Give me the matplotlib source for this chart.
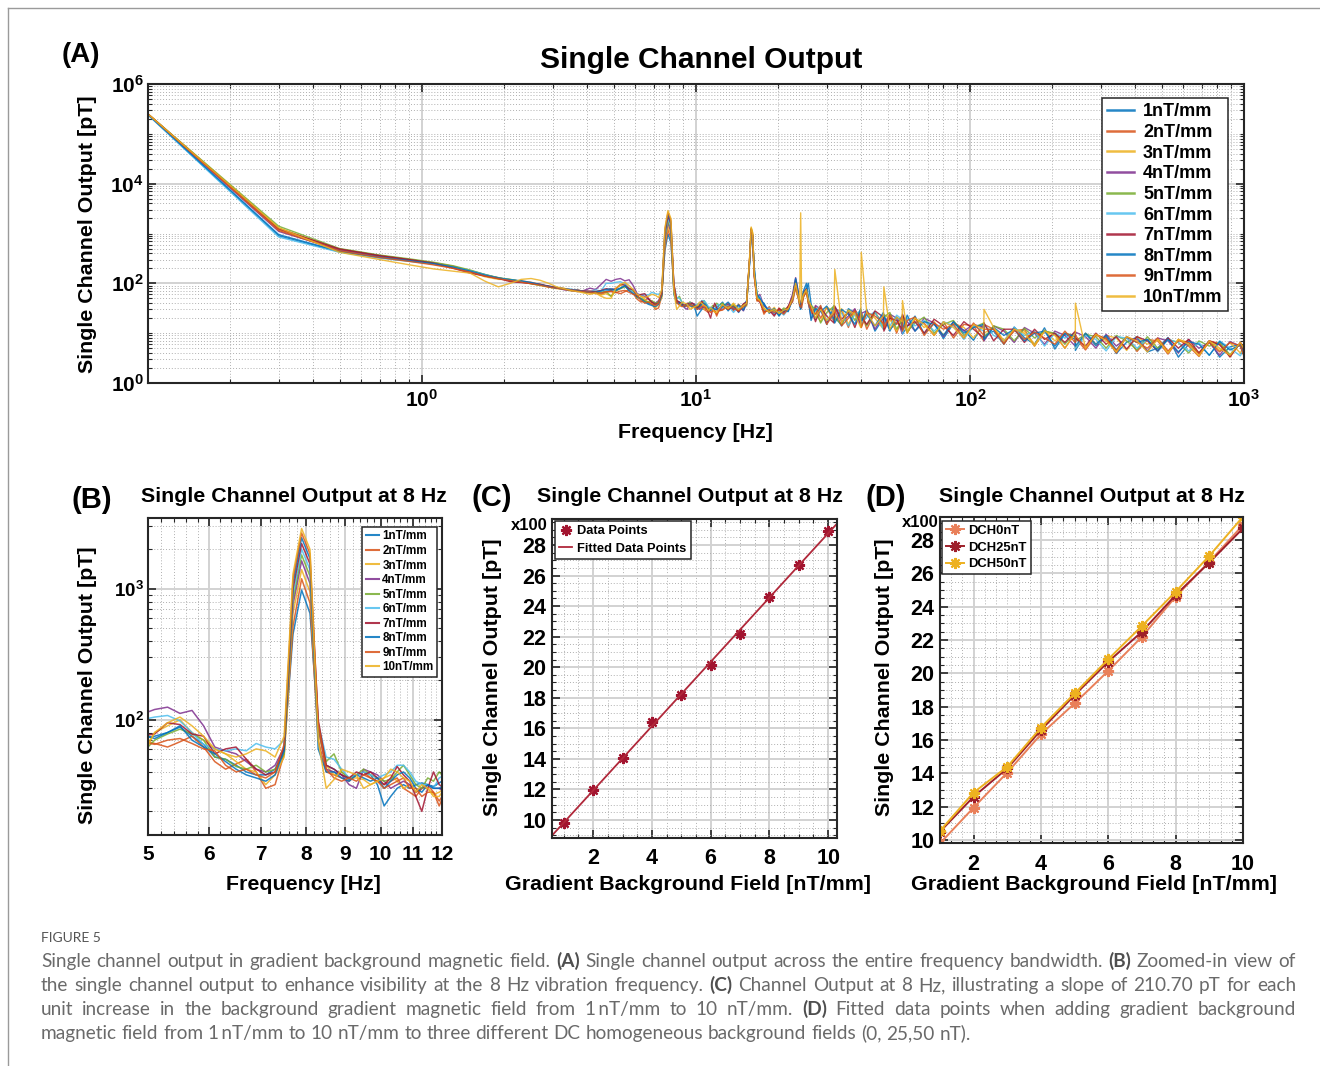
import numpy as np
import matplotlib
matplotlib.use('Agg')
from matplotlib import pyplot as plt
from matplotlib.ticker import FixedLocator, FuncFormatter, NullFormatter, MultipleLocator, LogLocator
from matplotlib.lines import Line2D

plt.rcParams['font.family'] = ['Liberation Sans', 'DejaVu Sans']
plt.rcParams['font.weight'] = 'bold'
plt.rcParams['mathtext.fontset'] = 'custom'
plt.rcParams['mathtext.rm'] = 'Liberation Sans:bold'
plt.rcParams['mathtext.bf'] = 'Liberation Sans:bold'

# ---------------- data ----------------
labels = ['1nT/mm', '2nT/mm', '3nT/mm', '4nT/mm', '5nT/mm',
          '6nT/mm', '7nT/mm', '8nT/mm', '9nT/mm', '10nT/mm']
colors = ['#0072BD', '#D95319', '#EDB120', '#7E2F8E', '#77AC30',
          '#4DBEEE', '#A2142F', '#0072BD', '#D95319', '#EDB120']

# spectrum sampled every 0.2 Hz below 12 Hz
f_low = np.round(np.arange(0.1, 4.8, 0.2), 1)
f_zoom = np.round(np.arange(4.9, 12.2, 0.2), 1)
f_high = [12.5, 13.1, 13.7, 14.3, 14.9, 15.3, 15.7, 15.9, 16.1, 16.3, 16.7, 17.1, 17.7,
          18.5, 19.3, 20.1, 20.9, 21.7, 22.5, 23.1, 23.5, 23.9, 24.1, 24.3, 24.7, 25.3,
          25.7, 26.3, 27.3, 28.5, 30, 31.9, 32.1, 34, 36, 38, 39.9, 40.1, 42, 45, 48.3,
          48.5, 51, 54, 56.5, 56.7, 59, 63, 68, 74, 80, 87, 95, 103, 112.3, 112.5, 122,
          133, 145, 158, 172, 187, 204, 222, 242.3, 242.5, 264, 288, 314, 342, 373, 407,
          444, 484, 528, 576, 628, 685, 747, 815, 889, 970, 1000]

low_1 = [2.4e5, 900, 430, 330, 280, 250, 215, 180, 150, 128, 118, 110, 100, 92, 88, 82, 78, 75, 72, 70, 68, 66, 64, 70]
low_2 = [2.5e5, 1200, 480, 360, 300, 260, 220, 175, 140, 125, 115, 112, 105, 95, 85, 80, 76, 72, 74, 68, 65, 62, 60, 66]
low_3 = [2.5e5, 1300, 460, 340, 285, 240, 205, 170, 135, 120, 120, 108, 98, 90, 84, 78, 80, 70, 70, 66, 64, 70, 58, 62]
low_4 = [2.45e5, 1100, 470, 350, 290, 245, 210, 170, 145, 130, 112, 106, 100, 94, 86, 82, 74, 72, 68, 72, 80, 75, 95, 120]
low_5 = [2.5e5, 1400, 500, 370, 310, 265, 225, 185, 150, 130, 120, 110, 98, 92, 86, 80, 76, 74, 70, 68, 66, 64, 66, 68]
low_6 = [2.4e5, 850, 420, 320, 275, 245, 210, 178, 148, 126, 118, 108, 102, 94, 86, 80, 78, 76, 72, 70, 68, 74, 70, 100]
low_7 = [2.5e5, 1250, 490, 360, 300, 255, 200, 160, 140, 125, 108, 104, 100, 96, 88, 82, 78, 74, 72, 70, 70, 68, 72, 78]
low_8 = [2.45e5, 950, 440, 335, 285, 250, 212, 176, 146, 128, 118, 112, 104, 94, 86, 80, 78, 72, 72, 68, 66, 66, 70, 75]
low_9 = [2.5e5, 1150, 450, 330, 275, 235, 200, 168, 140, 124, 114, 106, 98, 92, 84, 80, 76, 72, 70, 68, 66, 64, 64, 68]
low_10 = [2.5e5, 1300, 420, 300, 235, 195, 175, 160, 110, 85, 100, 120, 125, 115, 100, 85, 78, 72, 68, 64, 60, 64, 55, 50]

zoom_1 = [72, 75, 80, 88, 75, 65, 52, 50, 45, 40, 38, 38, 42, 60, 450, 980, 650, 85, 45, 42,
          38, 35, 38, 40, 38, 32, 22, 26, 30, 32, 30, 32, 33, 32, 31, 33, 35]
zoom_2 = [70, 66, 62, 68, 75, 62, 48, 42, 46, 50, 40, 30, 32, 55, 520, 1195, 780, 70, 40, 38,
          36, 34, 38, 40, 36, 34, 32, 34, 36, 30, 28, 26, 30, 32, 28, 22, 28]
zoom_3 = [55, 80, 90, 100, 80, 70, 60, 55, 48, 42, 40, 32, 38, 52, 650, 1405, 950, 80, 45, 38,
          40, 36, 36, 35, 32, 34, 36, 38, 34, 30, 32, 28, 30, 30, 27, 28, 30]
zoom_4 = [110, 120, 125, 112, 118, 90, 62, 58, 55, 48, 42, 40, 45, 62, 760, 1640, 1100, 90, 42, 40,
          38, 32, 30, 42, 40, 38, 34, 30, 32, 34, 32, 28, 30, 32, 30, 30, 28]
zoom_5 = [55, 70, 78, 85, 78, 70, 52, 50, 44, 42, 45, 40, 42, 55, 830, 1820, 1250, 90, 48, 55,
          40, 36, 38, 42, 38, 36, 34, 35, 40, 45, 38, 32, 30, 36, 34, 40, 36]
zoom_6 = [100, 105, 108, 98, 80, 65, 60, 58, 60, 58, 66, 62, 60, 70, 900, 2015, 1400, 95, 52, 50,
          42, 36, 38, 40, 38, 36, 38, 40, 45, 45, 40, 34, 32, 32, 30, 36, 38]
zoom_7 = [75, 78, 95, 92, 78, 75, 55, 60, 62, 50, 42, 38, 40, 60, 1000, 2220, 1550, 100, 45, 42,
          38, 36, 40, 38, 40, 36, 32, 36, 44, 38, 34, 26, 20, 30, 40, 32, 30]
zoom_8 = [78, 72, 80, 90, 70, 62, 55, 48, 42, 38, 36, 34, 38, 58, 1100, 2460, 1700, 60, 40, 40,
          36, 34, 38, 36, 34, 36, 30, 34, 38, 40, 36, 30, 28, 32, 30, 30, 32]
zoom_9 = [68, 65, 70, 72, 66, 60, 58, 45, 40, 42, 38, 36, 40, 65, 1200, 2670, 1850, 95, 42, 36,
          34, 36, 34, 38, 36, 34, 30, 32, 34, 36, 30, 30, 26, 28, 28, 24, 28]
zoom_10 = [50, 80, 95, 105, 90, 75, 60, 55, 52, 55, 60, 58, 52, 75, 1300, 2890, 2000, 70, 30, 35,
           42, 40, 38, 30, 32, 34, 36, 42, 40, 36, 34, 28, 32, 30, 26, 26, 30]

high_1 = [42, 28, 38, 26, 36, 45, 260, 1050, 800, 230, 55, 45, 40, 25, 30, 22, 30, 28, 50, 120, 70, 35,
          30, 40, 55, 75, 100,
          39, 19, 29, 15, 36, 22, 14, 31, 25, 15, 16, 30, 11, 20, 23, 12, 16, 22, 9.6, 13.5,
          22, 9.8, 15.6, 7.8, 15.6, 11.5, 7.2, 16, 8.8, 11, 6, 13.3, 8.1, 6, 12.8, 4.8,
          9.6, 7.5, 4.5, 9.8, 5.6, 8.5, 3.9, 6.6, 8.4, 4.2, 5, 8.2, 3.3, 6, 4, 7, 3.3, 5.3, 6, 4.5]
high_2 = [30, 40, 28, 38, 30, 42, 320, 1150, 900, 140, 48, 45, 24, 34, 24, 32, 26, 35, 42, 80, 55, 45,
          38, 32, 55, 70, 40,
          24, 34, 20, 33, 17, 30, 28, 13, 30, 19, 27, 12, 26, 15, 12, 22, 10, 20, 22, 10,
          19, 16, 9, 17, 8, 15, 14, 7, 15, 12, 6.5, 11, 12, 5.5, 11, 9.5, 5, 10, 8, 4.6,
          9, 8, 4, 8.5, 4.3, 7.5, 7, 3.8, 7.5, 5.5, 3.4, 7, 6.2, 3.3, 6.5, 5]
high_3 = [38, 30, 40, 29, 35, 38, 350, 1300, 1000, 160, 45, 50, 32, 26, 33, 24, 27, 30, 55, 95, 60, 38,
          34, 42, 60, 75, 48,
          33, 25, 17, 34, 26, 18, 31, 15, 27, 24, 13, 26, 20, 12, 24, 19, 11, 21, 18, 10,
          20, 13, 17, 9, 16, 13, 8, 15, 10, 13, 7, 12, 11, 6, 11.5, 7, 10, 9, 5, 10,
          6, 9, 8, 4.5, 8.5, 6, 7.5, 4.2, 7.5, 6.5, 4, 7, 4.5, 6.5, 4, 5.5]
high_4 = [33, 38, 30, 35, 28, 40, 280, 1200, 850, 150, 52, 60, 35, 30, 24, 30, 25, 33, 60, 130, 80, 42,
          36, 50, 65, 80, 45,
          20, 36, 30, 16, 28, 33, 17, 22, 31, 14, 25, 28, 12, 23, 15, 24, 20, 10, 22, 17,
          11, 20, 16, 8.5, 17, 11, 15, 13, 7, 14, 11, 6.5, 13, 10, 6, 11, 9, 5.5, 10.5, 8.5,
          5, 9.5, 5.5, 8, 7.5, 4.4, 8, 7, 4, 7.5, 5, 6.5, 3.6, 6.8, 5.5, 3.8]
high_5 = [40, 32, 36, 30, 38, 35, 300, 1250, 950, 170, 58, 48, 30, 28, 28, 26, 32, 30, 48, 85, 65, 40,
          36, 40, 58, 72, 42,
          36, 30, 16, 26, 35, 20, 15, 29, 18, 30, 24, 14, 27, 13, 21, 26, 12, 18, 23, 11,
          16, 21, 10, 15, 18, 9, 13, 16, 8, 14, 12, 7, 12.5, 8, 11, 10, 6, 10.5, 7, 9.5,
          8.5, 5, 9, 7, 4.6, 8.5, 5, 7.5, 6.5, 4, 7, 5.5, 6.5, 3.7, 6.2, 4.8]
high_6 = [32, 36, 26, 34, 32, 38, 270, 1100, 820, 160, 50, 55, 28, 32, 25, 28, 23, 30, 45, 100, 62, 38,
          33, 44, 62, 85, 46,
          22, 29, 35, 18, 21, 32, 25, 14, 24, 28, 15, 21, 27, 12, 19, 14, 23, 19, 10, 20,
          14, 18, 11, 17, 14, 7.5, 14, 11, 15, 9, 7, 13, 9, 11, 5.5, 10, 8, 10, 5, 9,
          7.5, 4.4, 8.5, 8, 5, 7.5, 4.2, 7.5, 6.5, 4.4, 6.5, 3.6, 7, 5, 3.5, 5]
high_7 = [36, 30, 34, 27, 39, 42, 330, 1200, 900, 170, 47, 42, 27, 29, 22, 31, 27, 34, 52, 110, 66, 40,
          32, 46, 66, 78, 44,
          31, 17, 33, 22, 16, 35, 19, 26, 13, 27, 21, 15, 28, 21, 11, 20, 18, 12, 24, 14,
          17, 10, 19, 14, 9, 17, 12, 8, 16, 7, 12, 12, 6.5, 12, 7.5, 10, 6.5, 11, 8, 5.5,
          10, 6, 8.5, 4.8, 8.5, 7, 4.4, 8, 5, 7.5, 4, 7, 5.8, 3.4, 6.5, 4.2]
high_8 = [34, 42, 31, 37, 29, 41, 290, 1150, 880, 200, 60, 50, 38, 27, 31, 23, 29, 27, 48, 125, 75, 38,
          31, 48, 72, 100, 52,
          18, 31, 27, 35, 19, 16, 30, 24, 15, 31, 18, 24, 14, 26, 22, 11, 21, 17, 12, 23,
          11, 17, 15, 9, 17, 10, 13, 15, 7.5, 13, 9, 12, 7, 10, 11, 5.5, 10, 8.5, 5.5, 10,
          6, 9, 4.6, 8.5, 6.5, 7.5, 4.5, 7.5, 4.2, 6.8, 6, 3.6, 6.8, 4.6, 5.8, 3.6]
high_9 = [29, 35, 32, 28, 34, 37, 310, 1250, 930, 150, 44, 46, 26, 30, 26, 29, 24, 31, 44, 90, 58, 36,
          33, 38, 54, 68, 40,
          28, 24, 36, 15, 25, 29, 14, 20, 28, 17, 13, 26, 22, 16, 13, 23, 15, 21, 11, 18,
          21, 9, 16, 12, 15, 8, 16, 9, 12, 12, 6, 12, 7.5, 10.5, 8, 6, 11, 6.5, 9, 5,
          9.5, 7.5, 4.5, 8.5, 6.5, 5, 8, 4.4, 7, 6.5, 3.8, 6.5, 4.2, 6.5, 5.5, 3.4]
high_10 = [37, 31, 39, 30, 36, 40, 340, 1350, 1050, 170, 50, 45, 31, 27, 30, 25, 29, 31, 50, 100, 62, 40,
           2600, 42, 60, 75, 45,
           35, 20, 30, 18, 27, 190, 16, 29, 24, 13, 420, 26, 14, 22, 85, 12, 21, 17, 45, 11,
           20, 15, 9, 17, 13, 8, 15, 12, 30, 13, 7, 12, 10, 5.5, 11, 9, 5, 10, 40, 5,
           9.5, 7, 4.2, 8.5, 7, 4.2, 7.5, 4, 7.5, 6, 3.5, 7, 5, 3.6, 6.5, 4.8]

low_all = [low_1, low_2, low_3, low_4, low_5, low_6, low_7, low_8, low_9, low_10]
zoom_all = [zoom_1, zoom_2, zoom_3, zoom_4, zoom_5, zoom_6, zoom_7, zoom_8, zoom_9, zoom_10]
high_all = [high_1, high_2, high_3, high_4, high_5, high_6, high_7, high_8, high_9, high_10]

# output at 8 Hz (x100 pT)
grad = [1, 2, 3, 4, 5, 6, 7, 8, 9, 10]
out_8hz = [9.8, 11.95, 14.05, 16.4, 18.2, 20.15, 22.2, 24.6, 26.7, 28.9]

dc_labels = ['DCH0nT', 'DCH25nT', 'DCH50nT']
dc_colors = ['#E9805A', '#9E1F2A', '#EDB120']
dch0 = [9.8, 11.95, 14.05, 16.35, 18.2, 20.15, 22.2, 24.6, 26.7, 28.9]
dch25 = [10.5, 12.6, 14.3, 16.6, 18.7, 20.7, 22.5, 24.7, 26.65, 28.7]
dch50 = [10.55, 12.85, 14.4, 16.75, 18.8, 20.85, 22.85, 24.9, 27.05, 29.4]

caption_lines = [
    'Single channel output in gradient background magnetic field. (A) Single channel output across the entire frequency bandwidth. (B) Zoomed-in view of',
    'the single channel output to enhance visibility at the 8 Hz vibration frequency. (C) Channel Output at 8 Hz, illustrating a slope of 210.70 pT for each',
    'unit increase in the background gradient magnetic field from 1\u2009nT/mm to 10 nT/mm. (D) Fitted data points when adding gradient background',
    'magnetic field from 1\u2009nT/mm to 10 nT/mm to three different DC homogeneous background fields (0, 25,50 nT).',
]

# ---------------- layout helpers ----------------
W, H = 1320, 1066
fig = plt.figure(figsize=(W / 100, H / 100), dpi=100)


def px_axes(l, t, r, b):
    return fig.add_axes([l / W, 1 - b / H, (r - l) / W, (b - t) / H])


def px_text(x, y, s, **kw):
    return fig.text(x / W, 1 - y / H, s, **kw)


def matlab_style(ax, tick_size=15):
    ax.grid(True, which='major', color='#d2d2d2', lw=1.4, ls='-')
    ax.grid(True, which='minor', color='#b0b0b0', lw=0.7, ls=(0, (1, 2)))
    ax.set_axisbelow(True)
    ax.tick_params(which='both', direction='in', top=True, right=True, colors='#262626')
    ax.tick_params(which='major', length=6, width=1.2, labelsize=tick_size, labelcolor='black')
    ax.tick_params(which='minor', length=3, width=0.8)
    for s in ax.spines.values():
        s.set_linewidth(1.5)
        s.set_color('#262626')


def legend_style(leg, handle_lw=None):
    leg.get_frame().set_linewidth(1.1)
    leg.get_frame().set_edgecolor('#262626')
    if handle_lw:
        for ln in leg.get_lines():
            ln.set_linewidth(handle_lw)


pow_fmt = FuncFormatter(lambda v, p: r'$\mathbf{10^{%d}}$' % int(round(np.log10(v))))

# ---------------- (A) full spectrum ----------------
axA = px_axes(148, 84, 1244, 383)
fA = np.concatenate([f_low, f_zoom, f_high])
for i in range(10):
    yA = np.concatenate([low_all[i], zoom_all[i], high_all[i]])
    axA.plot(fA, yA, color=colors[i], lw=1.0, alpha=0.85, label=labels[i])
axA.set_xscale('log')
axA.set_yscale('log')
axA.set_xlim(0.1, 1000)
axA.set_ylim(1, 1e6)
axA.xaxis.set_major_locator(FixedLocator([1, 10, 100, 1000]))
axA.xaxis.set_minor_locator(LogLocator(base=10, subs=np.arange(2, 10), numticks=50))
axA.yaxis.set_major_locator(FixedLocator([1, 1e2, 1e4, 1e6]))
axA.yaxis.set_minor_locator(LogLocator(base=10, subs=np.arange(1, 10), numticks=50))
axA.xaxis.set_major_formatter(pow_fmt)
axA.yaxis.set_major_formatter(pow_fmt)
axA.xaxis.set_minor_formatter(NullFormatter())
axA.yaxis.set_minor_formatter(NullFormatter())
matlab_style(axA, 15)
axA.tick_params(axis='x', pad=4)
axA.tick_params(axis='y', pad=3)
legA = axA.legend(loc='upper right', bbox_to_anchor=(0.9854, 0.953), fontsize=13, frameon=True,
                  fancybox=False, framealpha=1, borderpad=0.3, labelspacing=0.2,
                  handlelength=1.5, handletextpad=0.5, borderaxespad=0)
legend_style(legA, 1.8)

px_text(81, 55, '(A)', fontsize=20, ha='center', va='center')
px_text(701, 60, 'Single Channel Output', fontsize=21.5, ha='center', va='center')
px_text(88, 234, 'Single Channel Output [pT]', fontsize=15.4, rotation=90, ha='center', va='center')
px_text(695, 432, 'Frequency [Hz]', fontsize=15.4, ha='center', va='center')

# ---------------- (B) zoom around 8 Hz ----------------
axB = px_axes(148, 518, 442, 835)
for i in range(10):
    axB.plot(f_zoom, zoom_all[i], color=colors[i], lw=1.1, alpha=0.85, label=labels[i])
axB.set_xscale('log')
axB.set_yscale('log')
axB.set_xlim(5, 12)
axB.set_ylim(13.2, 3480)
axB.xaxis.set_major_locator(FixedLocator([5, 6, 7, 8, 9, 10, 11, 12]))
axB.xaxis.set_minor_locator(FixedLocator(np.round(np.arange(5.2, 12.0, 0.2), 1)))
axB.xaxis.set_major_formatter(FuncFormatter(lambda v, p: '%g' % v))
axB.xaxis.set_minor_formatter(NullFormatter())
axB.yaxis.set_major_locator(FixedLocator([100, 1000]))
axB.yaxis.set_minor_locator(LogLocator(base=10, subs=np.arange(1, 10), numticks=50))
axB.yaxis.set_major_formatter(pow_fmt)
axB.yaxis.set_minor_formatter(NullFormatter())
matlab_style(axB, 15)
axB.tick_params(axis='y', labelsize=13.5, pad=3)
axB.tick_params(axis='x', pad=7)
legB = axB.legend(loc='upper right', bbox_to_anchor=(0.983, 0.972), fontsize=8.4, frameon=True,
                  fancybox=False, framealpha=1, borderpad=0.3, labelspacing=0.22,
                  handlelength=1.15, handletextpad=0.25, borderaxespad=0)
legend_style(legB, 1.5)

px_text(92, 500, '(B)', fontsize=21, ha='center', va='center')
px_text(294, 497, 'Single Channel Output at 8 Hz', fontsize=15.4, ha='center', va='center')
px_text(88, 685, 'Single Channel Output [pT]', fontsize=15.4, rotation=90, ha='center', va='center')
px_text(303, 884, 'Frequency [Hz]', fontsize=15.4, ha='center', va='center')

# ---------------- (C) linear fit ----------------
axC = px_axes(552, 519, 837, 838)
slope, icpt = np.polyfit(grad, out_8hz, 1)
xfit = np.array([0.5, 10.5])
axC.plot(grad, out_8hz, ls='none', marker=(8, 2, 0), ms=8, mew=1.6, color='#A2142F', label='Data Points')
axC.plot(xfit, slope * xfit + icpt, color='#B0283A', lw=1.3, label='Fitted Data Points')
axC.set_xlim(0.6, 10.3)
axC.set_ylim(8.82, 29.7)
axC.xaxis.set_major_locator(MultipleLocator(2))
axC.xaxis.set_minor_locator(MultipleLocator(0.5))
axC.yaxis.set_major_locator(FixedLocator(np.arange(10, 29, 2)))
axC.yaxis.set_minor_locator(MultipleLocator(0.5))
matlab_style(axC, 15.5)
axC.tick_params(axis='x', pad=7)
axC.tick_params(axis='y', pad=4)
legC = axC.legend(loc='upper left', bbox_to_anchor=(0.01, 0.994), fontsize=9.3, frameon=True,
                  fancybox=False, framealpha=1, borderpad=0.35, labelspacing=0.4,
                  handlelength=1.0, handletextpad=0.4, borderaxespad=0)
legend_style(legC)
axC.text(-0.017, 0.981, 'x100', transform=axC.transAxes, ha='right', va='center', fontsize=12)

px_text(492, 498, '(C)', fontsize=21, ha='center', va='center')
px_text(690, 497, 'Single Channel Output at 8 Hz', fontsize=15.4, ha='center', va='center')
px_text(492, 677, 'Single Channel Output [pT]', fontsize=15.4, rotation=90, ha='center', va='center')
px_text(688, 884, 'Gradient Background Field [nT/mm]', fontsize=15.4, ha='center', va='center')

# ---------------- (D) DC backgrounds ----------------
axD = px_axes(940, 517, 1243, 843)
for vals, lab, col in zip([dch0, dch25, dch50], dc_labels, dc_colors):
    axD.plot(grad, vals, color=col, lw=1.4, marker=(8, 2, 0), ms=8, mew=1.5, label=lab)
axD.set_xlim(1, 10)
axD.set_ylim(9.82, 29.38)
axD.xaxis.set_major_locator(MultipleLocator(2))
axD.xaxis.set_minor_locator(MultipleLocator(1 / 3))
axD.yaxis.set_major_locator(FixedLocator(np.arange(10, 29, 2)))
axD.yaxis.set_minor_locator(MultipleLocator(0.5))
matlab_style(axD, 15.5)
axD.tick_params(axis='x', pad=8)
axD.tick_params(axis='y', pad=4)
legD = axD.legend(loc='upper left', bbox_to_anchor=(0.007, 0.988), fontsize=9.4, frameon=True,
                  fancybox=False, framealpha=1, borderpad=0.3, labelspacing=0.35,
                  handlelength=1.4, handletextpad=0.3, borderaxespad=0)
legend_style(legD)
axD.text(-0.003, 0.982, 'x100', transform=axD.transAxes, ha='right', va='center', fontsize=12)

px_text(886, 498, '(D)', fontsize=21, ha='center', va='center')
px_text(1092, 497, 'Single Channel Output at 8 Hz', fontsize=15.4, ha='center', va='center')
px_text(884, 677, 'Single Channel Output [pT]', fontsize=15.4, rotation=90, ha='center', va='center')
px_text(1094, 884, 'Gradient Background Field [nT/mm]', fontsize=15.4, ha='center', va='center')

# ---------------- frame and caption ----------------
fig.add_artist(Line2D([8 / W, 8 / W], [0, 1 - 8 / H], color='#9a9a9a', lw=1.0))
fig.add_artist(Line2D([8 / W, 1], [1 - 8 / H, 1 - 8 / H], color='#9a9a9a', lw=1.0))

cap_family = ['Lato', 'DejaVu Sans']
px_text(41, 938, 'FIGURE 5', fontsize=10, family=cap_family, weight='normal', color='#555555',
        ha='left', va='center')

renderer = fig.canvas.get_renderer()
bold_words = {'(A)', '(B)', '(C)', '(D)'}


def text_width(s, size, weight):
    t = fig.text(0, 0, s, fontsize=size, family=cap_family, weight=weight)
    w = t.get_window_extent(renderer=renderer).width
    t.remove()
    return w


def line_widths(line, size):
    words = line.split(' ')
    ws = [text_width(w, size, 'bold' if w in bold_words else 'normal') for w in words]
    return words, ws


x0, x1 = 41, 1296
base = 12.0
sp = text_width('a a', base, 'normal') - text_width('aa', base, 'normal')
natural = []
for line in caption_lines[:3]:
    words, ws = line_widths(line, base)
    natural.append(sum(ws) + sp * (len(words) - 1))
cap_size = base * 0.985 * (x1 - x0) / max(natural)

for k, line in enumerate(caption_lines):
    y = 967 + 24 * k
    words, ws = line_widths(line, cap_size)
    if k < 3:
        gap = ((x1 - x0) - sum(ws)) / (len(words) - 1)
    else:
        gap = sp * cap_size / base
    x = x0
    for w, wd in zip(words, ws):
        bold = w in bold_words
        px_text(x, y, w, fontsize=cap_size, family=cap_family, weight='bold' if bold else 'normal',
                color='#4f4f4f' if bold else '#6a6a6a', ha='left', va='baseline')
        x += wd + gap

fig.savefig('out.png', dpi=100)
